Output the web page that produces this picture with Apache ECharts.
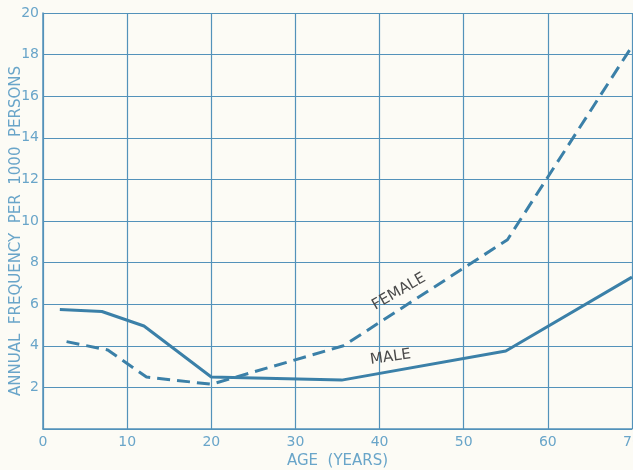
<!DOCTYPE html>
<html>
<head>
<meta charset="utf-8">
<script src="https://cdn.jsdelivr.net/npm/echarts@6/dist/echarts.min.js"></script>
<style>
  html, body { margin: 0; padding: 0; background: #fcfbf5; }
  #chart { width: 633px; height: 470px; }
</style>
</head>
<body>
<div id="chart"></div>
<script>
// age (years) and annual frequency per 1000 persons
const maleData = [[2, 5.75], [7, 5.65], [12, 4.95], [20, 2.5], [35.5, 2.35], [55, 3.75], [70, 7.3]];
const femaleData = [[2.8, 4.2], [7.7, 3.8], [12.3, 2.5], [20, 2.15], [35.7, 4.0], [55.2, 9.1], [70, 18.4]];
const xTicks = [0, 10, 20, 30, 40, 50, 60, 70];
const yTicks = [2, 4, 6, 8, 10, 12, 14, 16, 18, 20];
// where the curve names sit, in data units
const femaleLabelAt = [42.3, 6.6];
const maleLabelAt = [41.3, 3.45];

const lineColor = '#3b80a8';
const gridColor = '#5392ba';
const textColor = '#69a5c9';

const chart = echarts.init(document.getElementById('chart'));

const option = {
  backgroundColor: '#fcfbf5',
  animation: false,
  grid: {
    left: 43,
    right: 1,
    top: 13,
    bottom: 41,
    outerBoundsMode: 'none',
    containLabel: false
  },
  xAxis: {
    type: 'value',
    min: 0,
    max: 70,
    interval: 10,
    name: 'AGE  (YEARS)',
    nameLocation: 'middle',
    nameGap: 23,
    nameTextStyle: {
      color: textColor,
      fontSize: 15,
      fontFamily: 'DejaVu Sans'
    },
    axisLine: { show: true, lineStyle: { color: gridColor, width: 1.5 } },
    axisTick: { show: false },
    axisLabel: {
      color: textColor,
      fontSize: 14,
      fontFamily: 'DejaVu Sans',
      margin: 6,
      formatter: (v) => (xTicks.indexOf(v) >= 0 ? String(v) : '')
    },
    splitLine: { show: true, lineStyle: { color: gridColor, width: 1.2 } }
  },
  yAxis: {
    type: 'value',
    min: 0,
    max: 20,
    interval: 2,
    axisLine: { show: true, lineStyle: { color: gridColor, width: 1.5 } },
    axisTick: { show: false },
    axisLabel: {
      color: textColor,
      fontSize: 14,
      fontFamily: 'DejaVu Sans',
      margin: 4,
      formatter: (v) => (yTicks.indexOf(v) >= 0 ? String(v) : '')
    },
    splitLine: { show: true, lineStyle: { color: gridColor, width: 1.2 } }
  },
  series: [
    {
      name: 'MALE',
      type: 'line',
      data: maleData,
      showSymbol: false,
      lineStyle: { color: lineColor, width: 3 }
    },
    {
      name: 'FEMALE',
      type: 'line',
      data: femaleData,
      showSymbol: false,
      lineStyle: { color: lineColor, width: 3, type: [13, 7] }
    }
  ]
};

chart.setOption(option);

// curve names placed from data coordinates
const fp = chart.convertToPixel({ gridIndex: 0 }, femaleLabelAt);
const mp = chart.convertToPixel({ gridIndex: 0 }, maleLabelAt);
chart.setOption({
  graphic: [
    {
      // y axis title
      type: 'text',
      x: 16,
      y: 231,
      rotation: Math.PI / 2,
      style: {
        text: 'ANNUAL  FREQUENCY  PER  1000  PERSONS',
        fill: textColor,
        fontSize: 15,
        fontFamily: 'DejaVu Sans',
        align: 'center',
        verticalAlign: 'middle'
      }
    },
    {
      type: 'text',
      x: fp[0],
      y: fp[1],
      rotation: 30 * Math.PI / 180,
      style: {
        text: 'FEMALE',
        fill: '#4a4a4a',
        fontSize: 15,
        fontFamily: 'DejaVu Sans',
        align: 'center',
        verticalAlign: 'middle'
      }
    },
    {
      type: 'text',
      x: mp[0],
      y: mp[1],
      rotation: 8 * Math.PI / 180,
      style: {
        text: 'MALE',
        fill: '#4a4a4a',
        fontSize: 15,
        fontFamily: 'DejaVu Sans',
        align: 'center',
        verticalAlign: 'middle'
      }
    }
  ]
});
</script>
</body>
</html>
